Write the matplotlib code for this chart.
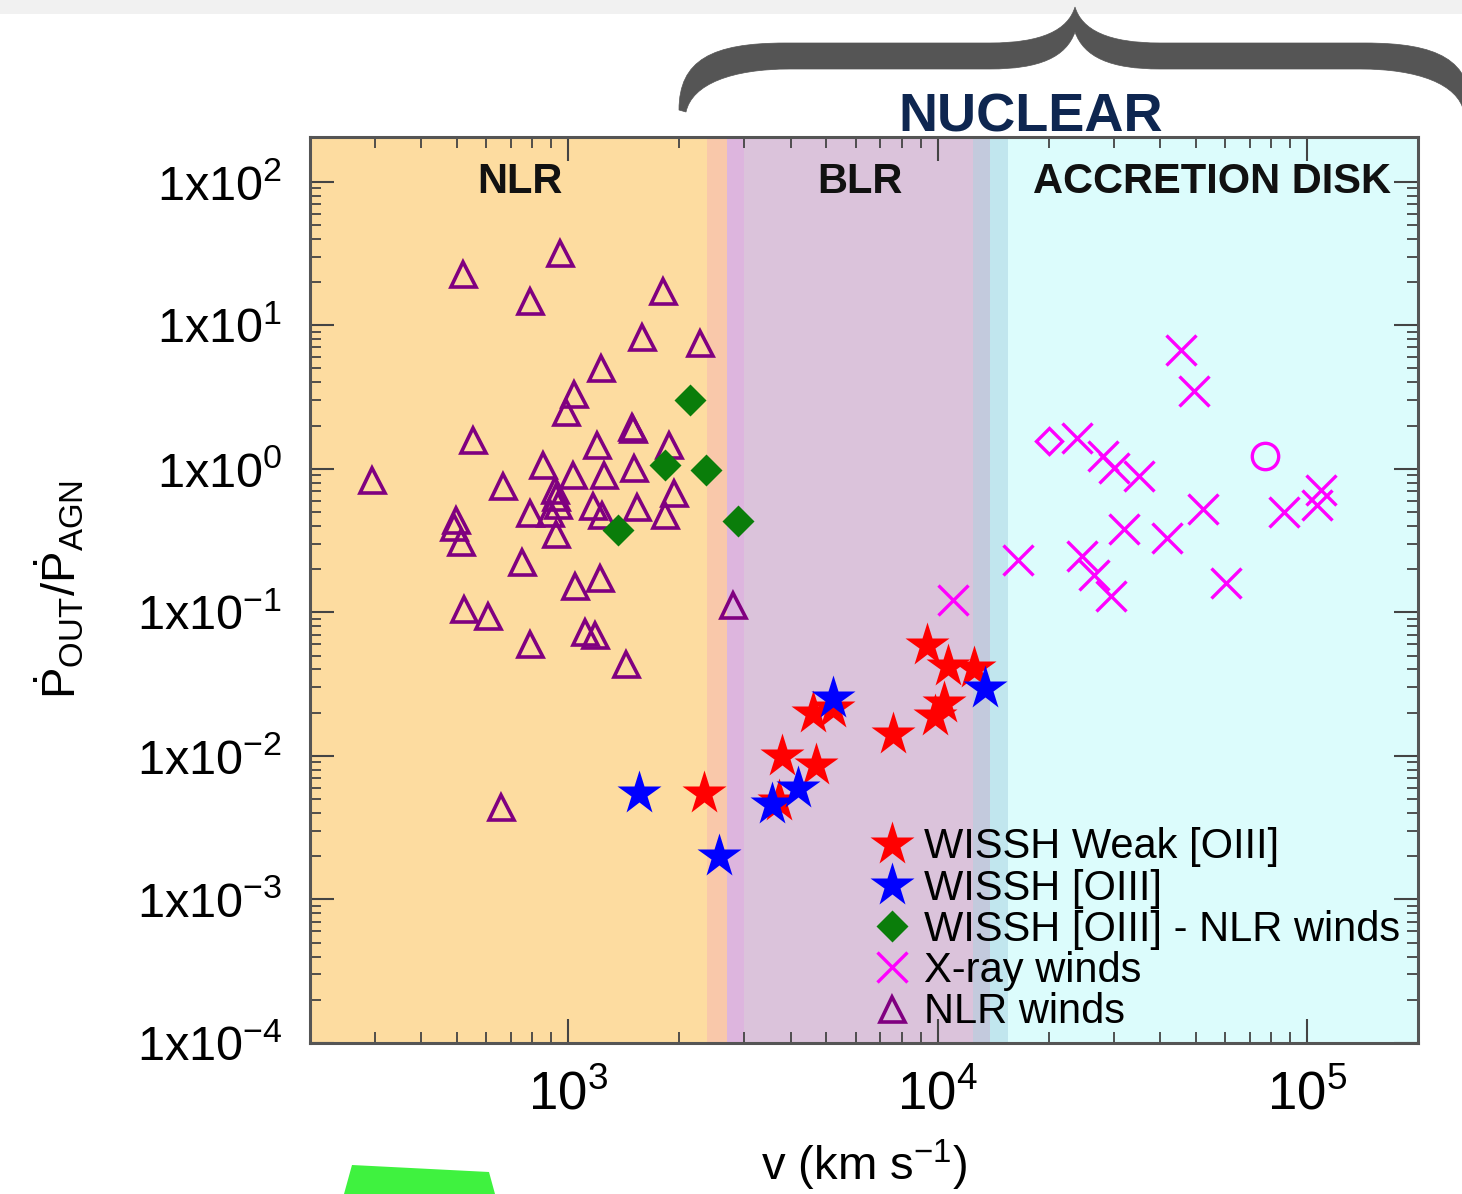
import numpy as np
import matplotlib
matplotlib.use("Agg")
import matplotlib.pyplot as plt
from matplotlib.path import Path
from matplotlib.patches import PathPatch, Polygon, Rectangle
from matplotlib.ticker import FuncFormatter, LogLocator, LogFormatterMathtext
import matplotlib.transforms as mtransforms

plt.rcParams["font.family"] = ["Liberation Sans", "DejaVu Sans"]
plt.rcParams["mathtext.fontset"] = "custom"
plt.rcParams["mathtext.rm"] = "Liberation Sans"
plt.rcParams["mathtext.it"] = "Liberation Sans:italic"
plt.rcParams["mathtext.bf"] = "Liberation Sans:bold"

# ---- data (v in km/s, Pdot_out / Pdot_agn) ----
nlr_v = [948, 520, 789, 1803, 1582, 2281, 1224, 1036, 984, 1487, 1500, 551, 1199, 1880,
         855, 1503, 1032, 1251, 294, 665, 1940, 923, 929, 939, 1170, 1535, 892, 787,
         1233, 1833, 496, 492, 513, 926, 750, 1220, 1043, 2793, 523, 606, 1114, 1182,
         787, 1435, 658]
nlr_p = [32, 22.6, 14.8, 17.3, 8.3, 7.5, 5.0, 3.3, 2.5, 1.97, 1.88, 1.59, 1.47, 1.47,
         1.07, 1.01, 0.91, 0.90, 0.83, 0.76, 0.68, 0.71, 0.64, 0.56, 0.55, 0.54, 0.49, 0.49,
         0.48, 0.48, 0.44, 0.39, 0.31, 0.35, 0.226, 0.173, 0.152, 0.113, 0.106, 0.094, 0.073, 0.069,
         0.060, 0.044, 0.0044]

wissh_nlr_v = [2142, 1833, 2364, 1368, 2884]
wissh_nlr_p = [3.02, 1.07, 0.98, 0.376, 0.43]

weak_v = [9346, 10690, 12517, 10380, 9845, 7590, 4590, 5206, 3801, 4691, 2328, 3728]
weak_p = [0.0596, 0.042, 0.041, 0.0234, 0.0189, 0.0141, 0.0199, 0.0216, 0.00995, 0.0087,
          0.00553, 0.00484]

oiii_v = [1551, 2560, 3573, 4180, 5206, 13460]
oiii_p = [0.00553, 0.0020, 0.00459, 0.0060, 0.0254, 0.0298]

xray_v = [11040, 45700, 49360, 23820, 27990, 30100, 35200, 16490, 24650, 26540, 29440,
          32030, 41790, 52360, 60310, 86850, 106500, 109300]
xray_p = [0.1226, 6.73, 3.51, 1.635, 1.22, 1.01, 0.884, 0.233, 0.245, 0.183, 0.129,
          0.380, 0.330, 0.524, 0.160, 0.497, 0.562, 0.714]

xray_diamond_v = [20030]
xray_diamond_p = [1.55]
xray_circle_v = [77020]
xray_circle_p = [1.22]

# background bands along v
band_edges = [200, 2375, 2693, 2994, 12490, 13900, 15560, 2.0e5]
band_colors = ["#FDDCA0", "#F9C8AA", "#DDB5DE", "#DBC3DB", "#C3CADD", "#C1E6EE", "#DCFCFC"]

region_names = ["NLR", "BLR", "ACCRETION DISK"]
region_v = [740, 6150, 55500]

legend_labels = ["WISSH Weak [OIII]", "WISSH [OIII]", "WISSH [OIII] - NLR winds",
                 "X-ray winds", "NLR winds"]

fig = plt.figure(figsize=(14.62, 11.94), dpi=100)

# decoration layer in pixel coordinates
deco = fig.add_axes([0, 0, 1, 1])
deco.set_xlim(0, 1462)
deco.set_ylim(1194, 0)
deco.axis("off")

deco.add_patch(Rectangle((0, 0), 1462, 14, color="#F1F1F1", lw=0))

# curly brace (left half then mirrored)
cx = 1075
left_top = [(679, 110), (679, 60), (712, 43), (785, 43),
            (990, 43), (1042, 43), (1068, 30), (cx, 7)]
left_bot = [(cx, 32), (1066, 57), (1040, 69), (990, 69),
            (790, 69), (732, 69), (692, 84), (686, 112)]
verts = []
codes = []
verts += left_top[:1]; codes += [Path.MOVETO]
verts += left_top[1:4]; codes += [Path.CURVE4] * 3
verts += left_top[4:5]; codes += [Path.LINETO]
verts += left_top[5:8]; codes += [Path.CURVE4] * 3
rt = [(2 * cx - x, y) for (x, y) in reversed(left_top)]
verts += rt[1:4]; codes += [Path.CURVE4] * 3
verts += rt[4:5]; codes += [Path.LINETO]
verts += rt[5:8]; codes += [Path.CURVE4] * 3
rb = [(2 * cx - x, y) for (x, y) in reversed(left_bot)]
verts += rb[0:1]; codes += [Path.LINETO]
verts += rb[1:4]; codes += [Path.CURVE4] * 3
verts += rb[4:5]; codes += [Path.LINETO]
verts += rb[5:8]; codes += [Path.CURVE4] * 3
verts += left_bot[1:4]; codes += [Path.CURVE4] * 3
verts += left_bot[4:5]; codes += [Path.LINETO]
verts += left_bot[5:8]; codes += [Path.CURVE4] * 3
verts += [left_top[0]]; codes += [Path.CLOSEPOLY]
deco.add_patch(PathPatch(Path(verts, codes), facecolor="#555555", edgecolor="#555555", lw=0.5))

deco.text(1031, 131, "NUCLEAR", ha="center", va="baseline", fontsize=39,
          fontweight="bold", color="#0E2650")

deco.add_patch(Polygon([(352, 1165), (489, 1172), (495, 1194), (344, 1194)],
                       closed=True, color="#3FF23F", lw=0))

# main axes
ax = fig.add_axes([0.212, 0.1265, 0.758, 0.7588])
ax.set_xscale("log")
ax.set_yscale("log")
ax.set_xlim(band_edges[0], band_edges[-1])
ax.set_ylim(1e-4, 205)

for i, c in enumerate(band_colors):
    ax.axvspan(band_edges[i], band_edges[i + 1], color=c, lw=0, zorder=0)

ax.plot(nlr_v, nlr_p, linestyle="none", marker="^", ms=18, mfc="none", mec="#800080",
        mew=2.6, label=legend_labels[4], zorder=3)
ax.plot(wissh_nlr_v, wissh_nlr_p, linestyle="none", marker="D", ms=16, color="#0A7D0A",
        mec="none", label=legend_labels[2], zorder=4)
ax.plot(xray_v, xray_p, linestyle="none", marker="x", ms=21, color="#FF00FF",
        mew=2.4, label=legend_labels[3], zorder=3)
ax.plot(xray_diamond_v, xray_diamond_p, linestyle="none", marker="D", ms=13, mfc="none",
        mec="#FF00FF", mew=2.4, zorder=3)
ax.plot(xray_circle_v, xray_circle_p, linestyle="none", marker="o", ms=19, mfc="none",
        mec="#FF00FF", mew=2.4, zorder=3)
ax.plot(weak_v, weak_p, linestyle="none", marker="*", ms=33, color="#FF0000", mec="none",
        label=legend_labels[0], zorder=5)
ax.plot(oiii_v, oiii_p, linestyle="none", marker="*", ms=33, color="#0000FF", mec="none",
        label=legend_labels[1], zorder=6)

label_tr = mtransforms.blended_transform_factory(ax.transData, ax.transAxes)
for name, v in zip(region_names, region_v):
    ax.text(v, 0.938, name, transform=label_tr, ha="center", va="baseline",
            fontsize=30, fontweight="bold", color="#111111", zorder=7)

# ticks
ax.xaxis.set_major_locator(LogLocator(base=10, numticks=10))
ax.xaxis.set_minor_locator(LogLocator(base=10, subs=np.arange(2, 10), numticks=20))
ax.yaxis.set_major_locator(LogLocator(base=10, numticks=10))
ax.yaxis.set_minor_locator(LogLocator(base=10, subs=np.arange(2, 10), numticks=20))
ax.xaxis.set_major_formatter(LogFormatterMathtext())
ax.yaxis.set_major_formatter(FuncFormatter(lambda y, pos: r"$1{\rm x}10^{%d}$" % int(round(np.log10(y)))))
ax.tick_params(which="both", direction="in", top=True, right=True, color="#444444")
ax.tick_params(which="major", length=17, width=1.5)
ax.tick_params(which="minor", length=8, width=1.3)
ax.tick_params(axis="x", which="major", labelsize=38, pad=20)
ax.tick_params(axis="y", which="major", labelsize=35, pad=20)
for s in ax.spines.values():
    s.set_color("#555555")
    s.set_linewidth(2.2)
    s.set_zorder(8)

ax.set_xlabel(r"v (km s$^{-1}$)", fontsize=34, labelpad=12)
ax.set_ylabel(r"$\dot{\rm P}_{\rm OUT}/\dot{\rm P}_{\rm AGN}$", fontsize=34, labelpad=36)

handles, labels = ax.get_legend_handles_labels()
order = [labels.index(l) for l in legend_labels]
leg = ax.legend([handles[i] for i in order], [labels[i] for i in order],
                loc="upper left", bbox_to_anchor=(0.507, 0.238), frameon=False,
                fontsize=30, handlelength=0.95, handletextpad=0.3, labelspacing=0.03,
                borderpad=0, borderaxespad=0)
leg.set_zorder(9)

fig.savefig("out.png", dpi=100)
